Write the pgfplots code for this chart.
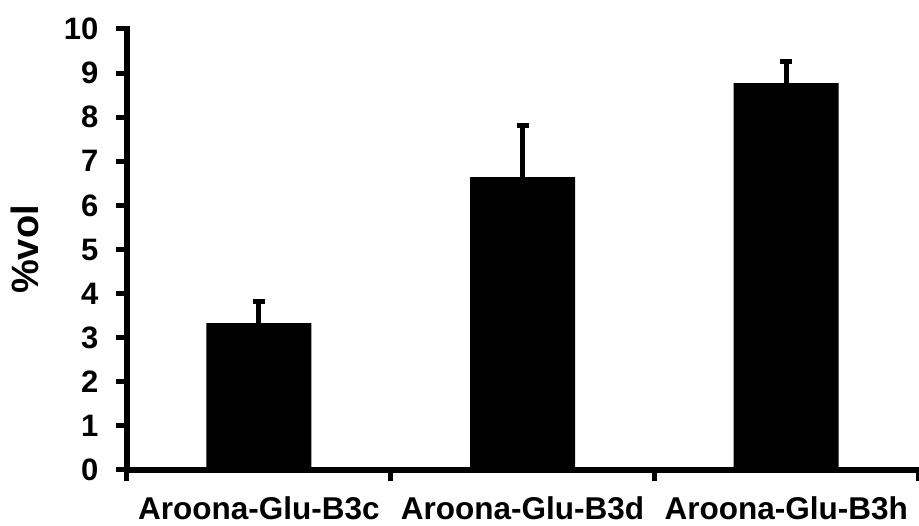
\documentclass[border=0pt]{standalone}
\usepackage{fontspec}
\setmainfont{Liberation Sans}
\usepackage{pgfplots}
\pgfplotsset{compat=1.18}
\usetikzlibrary{calc}
\begin{document}
\begin{tikzpicture}
\begin{axis}[
  name=ax,
  at={(0,0)}, anchor=south west,
  scale only axis,
  width=791pt, height=441pt,
  xmin=0, xmax=3, ymin=0, ymax=10,
  axis lines=left,
  axis line style={-, draw=none},
  tick align=outside,
  major tick length=11pt,
  every tick/.style={line width=5pt, black},
  xtick={0,1,2,3},
  x tick label as interval,
  xticklabels={Aroona-Glu-B3c,Aroona-Glu-B3d,Aroona-Glu-B3h},
  ytick={0,1,...,10},
  /pgf/number format/assume math mode=true,
  yticklabel style={font=\fontsize{31}{32}\selectfont\bfseries, xshift=-14pt},
  xticklabel style={font=\fontsize{31.5}{32}\selectfont\bfseries, yshift=-12pt},
  ylabel={\%vol},
  ylabel style={font=\fontsize{38}{39}\selectfont\bfseries, at={(axis description cs:-0.129,0.5)}, anchor=center},
  clip=false,
]
\addplot[ybar, bar width=105pt, fill=black, draw=none,
  error bars/.cd, y dir=plus, y explicit,
  error bar style={line width=5pt, black},
  error mark options={line width=5pt, mark size=6pt, black, rotate=90}]
  table[x=x, y=y, y error=e] {
x y e
0.5 3.33 0.49
1.5 6.64 1.17
2.5 8.77 0.49
};
\draw[line width=6pt, line cap=rect] (rel axis cs:0,1) -- (rel axis cs:0,0) -- (rel axis cs:1,0);
\end{axis}
\pgfresetboundingbox
\path ($(ax.south west)+(-127pt,-56pt)$) rectangle ($(ax.north east)+(1pt,29pt)$);
\end{tikzpicture}
\end{document}
